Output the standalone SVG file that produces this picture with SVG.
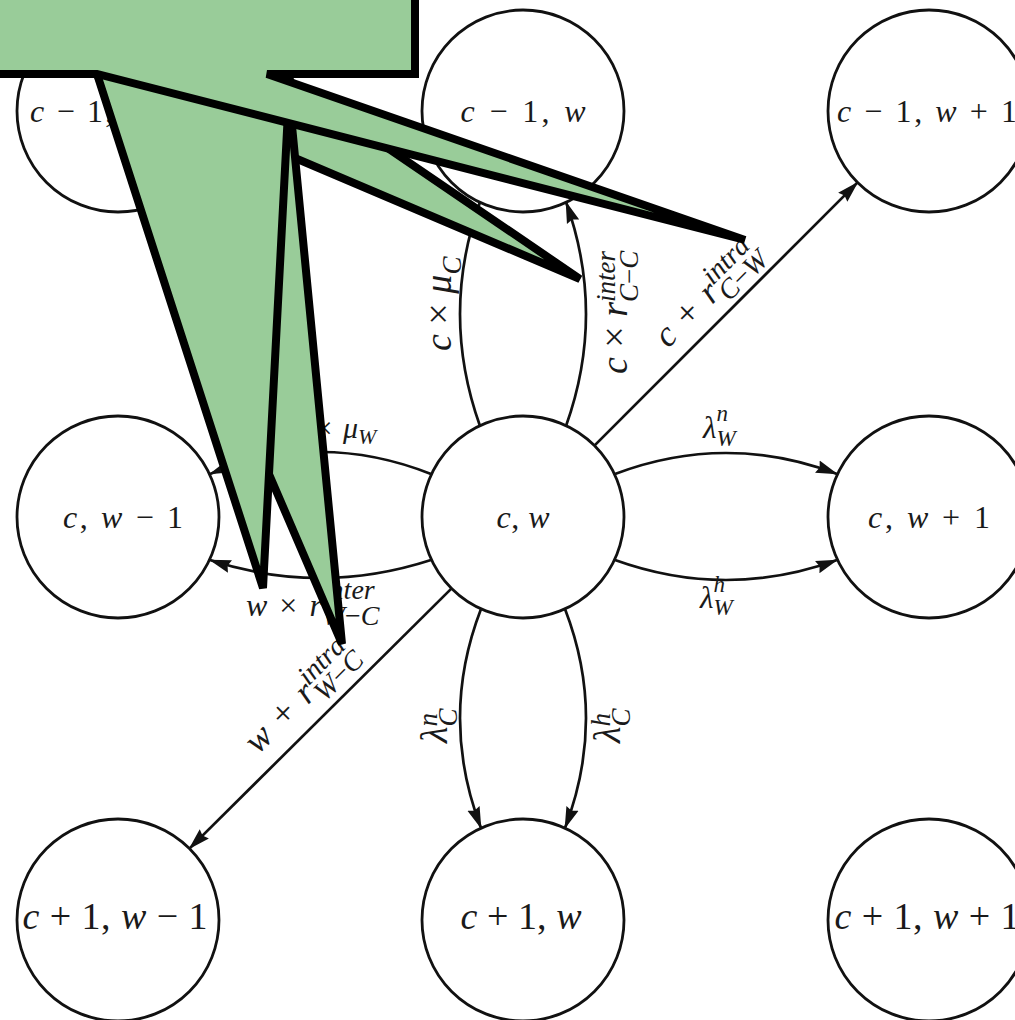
<svg xmlns="http://www.w3.org/2000/svg" width="1015" height="1020" viewBox="0 0 1015 1020">
  <defs>
    <marker id="arr" viewBox="0 0 22 14" markerWidth="22" markerHeight="14" refX="21" refY="7" orient="auto" markerUnits="userSpaceOnUse">
      <path d="M0,0.5 L22,7 L0,13.5 L2.5,7 z" fill="#111"/>
    </marker>
    <style>
      .node circle { fill: #fff; stroke: #111; stroke-width: 2.8; }
      .nl { font-family: "Liberation Serif", serif; fill: #1a1a1a; text-anchor: middle; }
      .i { font-style: italic; }
      .edge { fill: none; stroke: #111; stroke-width: 2.7; marker-end: url(#arr); }
      .lb { font-family: "Liberation Serif", serif; fill: #1a1a1a; }
      .callout polygon { fill: #99cc99; stroke: #000; stroke-width: 8; }
    </style>
  </defs>

  <rect width="1015" height="1020" fill="#fff"/>

  <!-- connectors -->
  <g id="connectors">
    <!-- c,w to c-1,w -->
    <path class="edge" d="M480,426 Q440,314 480,202"/>
    <path class="edge" d="M566,426 Q606,314 566,202"/>
    <!-- c,w to c+1,w -->
    <path class="edge" d="M481,609 Q439,718 481,828"/>
    <path class="edge" d="M565,609 Q607,718 565,828"/>
    <!-- c,w to c,w+1 -->
    <path class="edge" d="M615,474 Q726,432 837,474"/>
    <path class="edge" d="M615,560 Q726,600 837,560"/>
    <!-- c,w to c,w-1 -->
    <path class="edge" d="M431,474 Q320,430 210,474"/>
    <path class="edge" d="M431,560 Q320,596 210,560"/>
    <!-- diagonals -->
    <path class="edge" d="M594.4,445.6 L857.6,182.4"/>
    <path class="edge" d="M451.6,588.4 L189.4,848.6"/>
  </g>

  <!-- transition rate labels -->
  <g id="edge-labels">
    <text class="lb" transform="translate(451,351) rotate(-90)" font-size="38"><tspan class="i">c</tspan> × <tspan class="i">μ</tspan><tspan class="i" font-size="27" dy="10">C</tspan></text>
    <text class="lb" transform="translate(627,374) rotate(-90)" font-size="38"><tspan class="i">c</tspan> × <tspan class="i">r</tspan><tspan class="i" font-size="27" dy="-12">inter</tspan><tspan font-size="27" dx="-51" dy="23"><tspan class="i">C</tspan>−<tspan class="i">C</tspan></tspan></text>
    <text class="lb" transform="translate(668,349) rotate(-45)" font-size="36" word-spacing="4"><tspan class="i">c</tspan> + <tspan class="i">r</tspan><tspan class="i" font-size="28" dy="-13">intra</tspan><tspan font-size="28" dx="-54.5" dy="23"><tspan class="i">C</tspan>−<tspan class="i">W</tspan></tspan></text>
    <text class="lb" x="703" y="438" font-size="31"><tspan class="i">λ</tspan><tspan class="i" font-size="23" dy="-17">n</tspan><tspan class="i" font-size="23" dx="-11.5" dy="25">W</tspan></text>
    <text class="lb" x="700" y="608" font-size="31"><tspan class="i">λ</tspan><tspan class="i" font-size="23" dy="-16">h</tspan><tspan class="i" font-size="23" dx="-11.5" dy="23">W</tspan></text>
    <text class="lb" x="285" y="438" font-size="30" word-spacing="3"><tspan class="i">w</tspan> × <tspan class="i">μ</tspan><tspan class="i" font-size="22" dy="6">W</tspan></text>
    <text class="lb" x="246" y="616" font-size="32" word-spacing="4"><tspan class="i">w</tspan> × <tspan class="i">r</tspan><tspan class="i" font-size="28" dy="-17">inter</tspan><tspan font-size="28" dx="-53" dy="26"><tspan class="i">W</tspan>−<tspan class="i">C</tspan></tspan></text>
    <text class="lb" transform="translate(258,755) rotate(-45)" font-size="36" word-spacing="4"><tspan class="i">w</tspan> + <tspan class="i">r</tspan><tspan class="i" font-size="28" dy="-13">intra</tspan><tspan font-size="28" dx="-54.5" dy="23"><tspan class="i">W</tspan>−<tspan class="i">C</tspan></tspan></text>
    <text class="lb" transform="translate(447,743) rotate(-90)" font-size="38"><tspan class="i">λ</tspan><tspan class="i" font-size="27" dy="-10">n</tspan><tspan class="i" font-size="27" dx="-13.5" dy="20">C</tspan></text>
    <text class="lb" transform="translate(620,743) rotate(-90)" font-size="38"><tspan class="i">λ</tspan><tspan class="i" font-size="27" dy="-10">h</tspan><tspan class="i" font-size="27" dx="-13.5" dy="20">C</tspan></text>
  </g>

  <!-- state nodes -->
  <g id="n-cm1-wm1" class="node">
    <circle cx="118" cy="111" r="101"/>
    <text class="nl" x="118" y="122" font-size="32" textLength="176"><tspan class="i">c</tspan> − 1, <tspan class="i">w</tspan> − 1</text>
  </g>
  <g id="n-cm1-w" class="node">
    <circle cx="523" cy="111" r="101"/>
    <text class="nl" x="523" y="122" font-size="32" textLength="125"><tspan class="i">c</tspan> − 1, <tspan class="i">w</tspan></text>
  </g>
  <g id="n-cm1-wp1" class="node">
    <circle cx="929" cy="111" r="101"/>
    <text class="nl" x="927" y="122" font-size="32" textLength="180"><tspan class="i">c</tspan> − 1, <tspan class="i">w</tspan> + 1</text>
  </g>
  <g id="n-c-wm1" class="node">
    <circle cx="118" cy="517" r="101"/>
    <text class="nl" x="123" y="528" font-size="32" textLength="120"><tspan class="i">c</tspan>, <tspan class="i">w</tspan> − 1</text>
  </g>
  <g id="n-c-w" class="node">
    <circle cx="523" cy="517" r="101"/>
    <text class="nl" x="523" y="528" font-size="32" textLength="53"><tspan class="i">c</tspan>, <tspan class="i">w</tspan></text>
  </g>
  <g id="n-c-wp1" class="node">
    <circle cx="929" cy="517" r="101"/>
    <text class="nl" x="929" y="528" font-size="32" textLength="122"><tspan class="i">c</tspan>, <tspan class="i">w</tspan> + 1</text>
  </g>
  <g id="n-cp1-wm1" class="node">
    <circle cx="118" cy="920" r="101"/>
    <text class="nl" x="115" y="929" font-size="38" textLength="185"><tspan class="i">c</tspan> + 1, <tspan class="i">w</tspan> − 1</text>
  </g>
  <g id="n-cp1-w" class="node">
    <circle cx="523" cy="920" r="101"/>
    <text class="nl" x="521" y="929" font-size="38" textLength="121"><tspan class="i">c</tspan> + 1, <tspan class="i">w</tspan></text>
  </g>
  <g id="n-cp1-wp1" class="node">
    <circle cx="929" cy="920" r="101"/>
    <text class="nl" x="927" y="929" font-size="38" textLength="185"><tspan class="i">c</tspan> + 1, <tspan class="i">w</tspan> + 1</text>
  </g>

  <!-- callout box with pointer tails, later tails drawn over earlier ones -->
  <g id="callout" class="callout">
    <polygon points="-60,-60 415,-60 415,74 279,74 580,279 97,74 -60,74"/>
    <polygon points="-60,-60 415,-60 415,74 287,74 342,644 97,74 -60,74"/>
    <polygon points="-60,-60 415,-60 415,74 290,74 263,588 97,74 -60,74"/>
    <polygon points="-60,-60 415,-60 415,74 267,74 745,240 97,74 -60,74"/>
  </g>
</svg>
